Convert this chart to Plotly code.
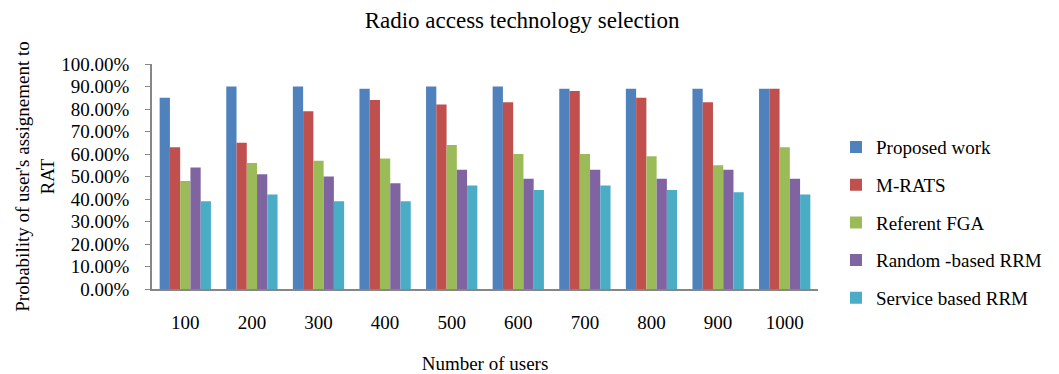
import plotly.graph_objects as go

categories = ["100", "200", "300", "400", "500", "600", "700", "800", "900", "1000"]
proposed_work = [85, 90, 90, 89, 90, 90, 89, 89, 89, 89]
m_rats = [63, 65, 79, 84, 82, 83, 88, 85, 83, 89]
referent_fga = [48, 56, 57, 58, 64, 60, 60, 59, 55, 63]
random_rrm = [54, 51, 50, 47, 53, 49, 53, 49, 53, 49]
service_rrm = [39, 42, 39, 39, 46, 44, 46, 44, 43, 42]

series_names = ["Proposed work", "M-RATS", "Referent FGA", "Random -based RRM", "Service based RRM"]
series_values = [proposed_work, m_rats, referent_fga, random_rrm, service_rrm]
colors = ["#4F81BD", "#C0504D", "#9BBB59", "#8064A2", "#4BACC6"]

font_family = "Liberation Serif"

fig = go.Figure()
for name, vals, col in zip(series_names, series_values, colors):
    fig.add_trace(go.Bar(
        x=categories, y=vals, name=name, legendgroup=name,
        marker=dict(color=col, line=dict(width=0)),
    ))

fig.update_layout(
    width=1059, height=374,
    margin=dict(l=152, r=229, t=64, b=85),
    paper_bgcolor="white", plot_bgcolor="white",
    font=dict(family=font_family, size=19, color="black"),
    title=dict(text="Radio access technology selection", x=0.493, xanchor="center",
               y=0.9465, yanchor="middle", font=dict(size=23, family=font_family)),
    barmode="group", bargap=0.23, bargroupgap=0,
    showlegend=True,
    legend=dict(x=1.027, xanchor="left", y=0.715, yanchor="top",
                font=dict(size=19, family=font_family),
                traceorder="grouped", tracegroupgap=10, itemwidth=30,
                bgcolor="rgba(0,0,0,0)"),
    xaxis=dict(
        showline=True, linecolor="#868686", linewidth=1.5,
        ticks="", showgrid=False, ticklabelstandoff=15, automargin=False,
        tickfont=dict(size=19, family=font_family),
        title=dict(text="Number of users", font=dict(size=19, family=font_family), standoff=25),
    ),
    yaxis=dict(
        range=[0, 100], dtick=10, tick0=0,
        tickformat=".2f", ticksuffix="%",
        showline=True, linecolor="#868686", linewidth=1.5,
        ticks="outside", ticklen=5, tickcolor="#868686",
        ticklabelstandoff=12, automargin=False,
        showgrid=False, zeroline=False,
        tickfont=dict(size=19, family=font_family),
        title=dict(text="Probability of user's assignement to<br>RAT",
                   font=dict(size=19, family=font_family), standoff=2),
    ),
)

fig.write_html("out.html")
